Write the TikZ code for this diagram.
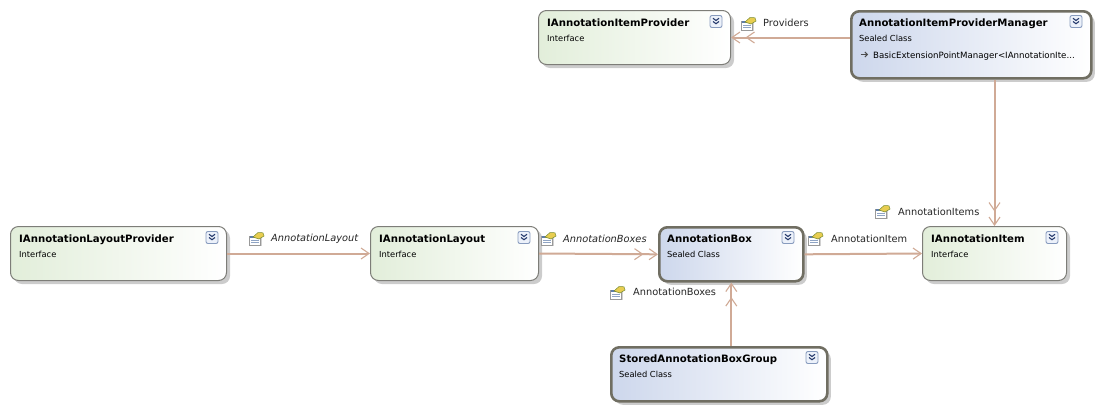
\documentclass[tikz,border=0pt]{standalone}
\usepackage{fontspec}
\setmainfont{DejaVu Sans}
\usetikzlibrary{arrows.meta,shadows,positioning}
\definecolor{linkc}{RGB}{208,170,150}
\definecolor{ifacec}{RGB}{226,238,218}
\definecolor{classc}{RGB}{205,215,236}
\definecolor{ifaceb}{RGB}{125,125,120}
\definecolor{classb}{RGB}{112,110,98}
\definecolor{btnb}{RGB}{135,155,190}
\definecolor{btnf}{RGB}{236,241,250}
\definecolor{btnc}{RGB}{40,60,110}
\definecolor{iconb}{RGB}{95,125,170}
\definecolor{icony}{RGB}{232,205,80}
\definecolor{icong}{RGB}{120,140,50}
\tikzset{
  x=1pt,y=-1pt,
  typebox/.style={anchor=north west,rounded corners=8pt,inner sep=0pt,
    drop shadow={shadow xshift=3.5pt,shadow yshift=-3.5pt,fill=black,opacity=.2}},
  ifacebox/.style={typebox,draw=ifaceb,line width=1pt,left color=ifacec,right color=white},
  classbox/.style={typebox,draw=classb,line width=2.6pt,left color=classc,right color=white},
  titletext/.style={anchor=base west,inner sep=0pt,font=\fontsize{10.15}{11}\selectfont\bfseries},
  subtext/.style={anchor=base west,inner sep=0pt,font=\fontsize{8.3}{10}\selectfont},
  linktext/.style={anchor=west,inner sep=0pt,font=\fontsize{9.8}{11}\selectfont,text=black!85},
  itallink/.style={linktext,font=\fontsize{9.8}{11}\selectfont\itshape},
  assoc/.style={draw=linkc,line width=2pt},
  one/.style={assoc,-{Straight Barb[length=8pt,width=11pt,line width=1.1pt]}},
  many/.style={assoc,-{Straight Barb[length=8pt,width=11pt,line width=1.1pt,sep=5pt]Straight Barb[length=8pt,width=11pt,line width=1.1pt]}},
}
\newcommand{\typebox}[8]{%
  \node[#6,minimum width=#4pt,minimum height=#5pt] (#1) at (#2,#3) {};
  \node[titletext] (#1t) at (#2+9,#3+16.7) {#7};
  \node[subtext] (#1s) at (#2+9,#3+31.7) {#8};
  \begin{scope}[shift={(#2+#4-20,#3+5.5)}]
    \draw[draw=btnb,fill=btnf,rounded corners=2pt,line width=.9pt] (0,0) rectangle (12,12);
    \draw[line width=1.1pt,draw=btnc] (3,2.8)--(6,5)--(9,2.8) (3,6)--(6,8.2)--(9,6);
  \end{scope}
}
\newcommand{\propicon}[2]{%
  \begin{scope}[shift={(#1,#2)}]
    \fill[black!18] (1.5,5) rectangle (12.5,14);
    \draw[draw=black!40,fill=white,line width=.5pt] (0.5,4) rectangle (11.5,13);
    \fill[iconb] (0.5,4) rectangle (11.5,6);
    \draw[iconb!70,line width=.8pt] (2,8)--(10,8) (2,10.5)--(10,10.5);
    \fill[icony,draw=icong,line width=.5pt] (4,5)--(9,0.5)--(14,0.8)--(15,4)--(10,7)--cycle;
  \end{scope}
}
\begin{document}
\begin{tikzpicture}
\useasboundingbox (0,0) rectangle (1099,408);
\fill[white] (0,0) rectangle (1099,408);
\typebox{prov}{538}{10}{192}{54}{ifacebox}{IAnnotationItemProvider}{Interface}
\typebox{mgr}{850}{10}{240}{67}{classbox}{AnnotationItemProviderManager}{Sealed Class}
\typebox{lprov}{10}{226}{216}{54}{ifacebox}{IAnnotationLayoutProvider}{Interface}
\typebox{lay}{370}{226}{168}{54}{ifacebox}{IAnnotationLayout}{Interface}
\typebox{box}{658}{226}{144}{54}{classbox}{AnnotationBox}{Sealed Class}
\typebox{item}{922}{226}{144}{54}{ifacebox}{IAnnotationItem}{Interface}
\typebox{grp}{610}{346}{216}{54}{classbox}{StoredAnnotationBoxGroup}{Sealed Class}
\node[anchor=base west,inner sep=0pt,font=\fontsize{8.65}{10}\selectfont] (base) at (873,58.5) {BasicExtensionPointManager<IAnnotationIte...};
\draw[black!70,line width=.9pt,-{Straight Barb[length=2.5pt,width=5pt]}] (860.5,54.5)--(868,54.5);
\draw[many] (mgr.west |- prov.east) -- (prov.east);
\draw[many] (item.north |- mgr.south) -- (item.north);
\draw[one] (lprov.east) -- (lay.west);
\draw[many] (lay.east) -- (box.west);
\draw[one] (box.east) -- (item.west);
\draw[many] (box.south |- grp.north) -- (box.south);
\propicon{741}{17}\node[linktext] (l1) at (763,23) {Providers};
\propicon{875}{205}\node[linktext] (l2) at (898,212) {AnnotationItems};
\propicon{249}{232}\node[itallink] (l3) at (271,238.5) {AnnotationLayout};
\propicon{541}{232}\node[itallink] (l4) at (563,238.5) {AnnotationBoxes};
\propicon{808}{232}\node[linktext] (l5) at (831,238.5) {AnnotationItem};
\propicon{610}{286}\node[linktext] (l6) at (633,292) {AnnotationBoxes};
\end{tikzpicture}
\end{document}
